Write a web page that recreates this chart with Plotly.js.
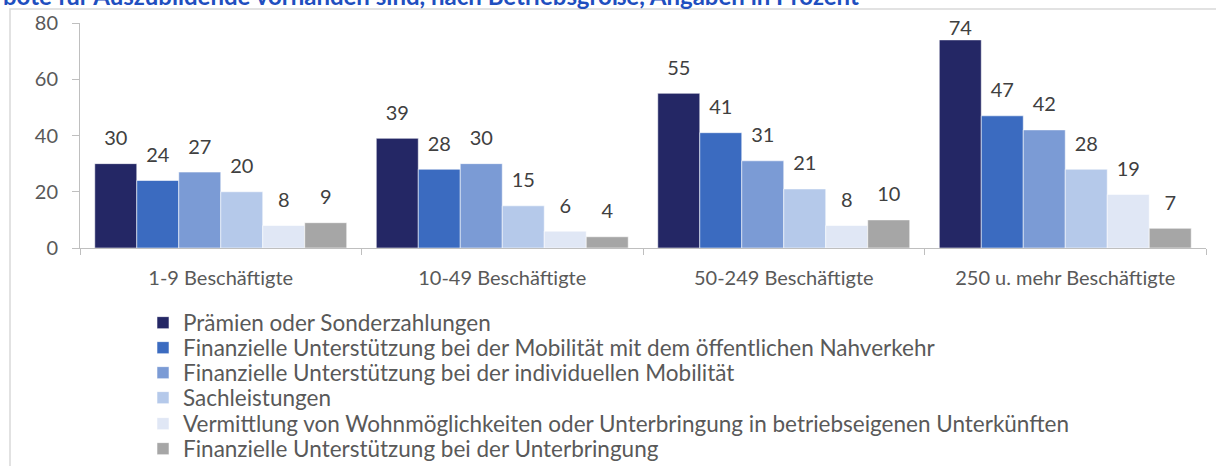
<!DOCTYPE html>
<html>
<head>
<meta charset="utf-8">
<script src="https://cdn.plot.ly/plotly-3.0.1.min.js"></script>
<style>html,body{margin:0;padding:0;background:#fff;}#chart{width:1216px;height:466px;}</style>
</head>
<body>
<div id="chart"></div>
<script>
const categories = ["1-9 Beschäftigte", "10-49 Beschäftigte", "50-249 Beschäftigte", "250 u. mehr Beschäftigte"];
const seriesNames = [
  "Prämien oder Sonderzahlungen",
  "Finanzielle Unterstützung bei der Mobilität mit dem öffentlichen Nahverkehr",
  "Finanzielle Unterstützung bei der individuellen Mobilität",
  "Sachleistungen",
  "Vermittlung von Wohnmöglichkeiten oder Unterbringung in betriebseigenen Unterkünften",
  "Finanzielle Unterstützung bei der Unterbringung"
];
const praemien = [30, 39, 55, 74];
const mobilitaetOePNV = [24, 28, 41, 47];
const mobilitaetIndividuell = [27, 30, 31, 42];
const sachleistungen = [20, 15, 21, 28];
const wohnvermittlung = [8, 6, 8, 19];
const unterbringung = [9, 4, 10, 7];
const seriesValues = [praemien, mobilitaetOePNV, mobilitaetIndividuell, sachleistungen, wohnvermittlung, unterbringung];
const colors = ["#242765", "#3B6BC0", "#7B9BD5", "#B5C9EA", "#E0E7F5", "#A6A6A6"];
const yTicks = [0, 20, 40, 60, 80];
const titleText = "bote für Auszubildende vorhanden sind, nach Betriebsgröße, Angaben in Prozent";

const FONT = "Lato, 'Open Sans', sans-serif";
const L = 80, R = 1206, T = 23, B = 248, W = 1216, H = 466;
const px = v => (v - L) / (R - L);
const py = v => (B - v) / (B - T);
const yMax = 80;

const legendIds = ["legend", "legend2", "legend3", "legend4", "legend5", "legend6"];
const traces = [];
seriesValues.forEach((vals, i) => {
  traces.push({
    type: "bar", x: categories, y: vals, name: seriesNames[i], legend: legendIds[i],
    marker: {color: colors[i], line: {color: "rgba(255,255,255,0.55)", width: 1}},
    hoverinfo: "skip"
  });
});
seriesValues.forEach((vals, i) => {
  traces.push({
    type: "scatter", mode: "markers+text", x: categories, y: vals,
    text: vals.map(String), textposition: "top center",
    textfont: {family: FONT, size: 20, color: "#404040"},
    // labels close to the top of the axis sit tighter to their bar (kept inside chart area)
    marker: {size: vals.map(v => (v > yMax - 10 ? 0 : 20)), opacity: 0},
    showlegend: false, hoverinfo: "skip", cliponaxis: false
  });
});

const layout = {
  width: W, height: H,
  margin: {l: L, r: W - R, t: T, b: H - B, autoexpand: false},
  paper_bgcolor: "#fff", plot_bgcolor: "#fff",
  font: {family: FONT, size: 20, color: "#595959"},
  barmode: "group", bargap: 0.105, bargroupgap: 0,
  scattermode: "group", scattergap: 0.105,
  xaxis: {
    type: "category", showgrid: false, zeroline: false,
    showline: true, linecolor: "#BFBFBF", linewidth: 1,
    ticks: "outside", tickson: "boundaries", ticklen: 6, tickcolor: "#BFBFBF",
    tickfont: {family: FONT, size: 20, color: "#595959"}, ticklabelstandoff: 12
  },
  yaxis: {
    range: [0, yMax], tickvals: yTicks, showgrid: false, zeroline: false,
    showline: true, linecolor: "#BFBFBF", linewidth: 1,
    ticks: "outside", ticklen: 7, tickcolor: "#BFBFBF",
    tickfont: {family: FONT, size: 20, color: "#595959"}, ticklabelstandoff: 10
  },
  showlegend: true,
  annotations: [{text: "<b>" + titleText + "</b>", xref: "paper", yref: "paper", x: px(1), y: py(-4),
                 xanchor: "left", yanchor: "middle", showarrow: false,
                 font: {family: FONT, size: 24, color: "#1F4FBF"}}],
  shapes: [{type: "rect", xref: "paper", yref: "paper", x0: px(10), x1: px(1225), y0: py(480), y1: py(9),
            line: {color: "#D9D9D9", width: 1.5}, fillcolor: "rgba(0,0,0,0)", layer: "below"}]
};
const rowCenters = [323, 348, 373, 398, 424, 449];
legendIds.forEach((id, i) => {
  layout[id] = {x: px(143), xanchor: "left", y: py(rowCenters[i]), yanchor: "middle", orientation: "v",
                font: {family: FONT, size: 22.5, color: "#595959"}, bgcolor: "rgba(0,0,0,0)"};
});

Plotly.newPlot("chart", traces, layout, {staticPlot: true, displayModeBar: false});
</script>
</body>
</html>
